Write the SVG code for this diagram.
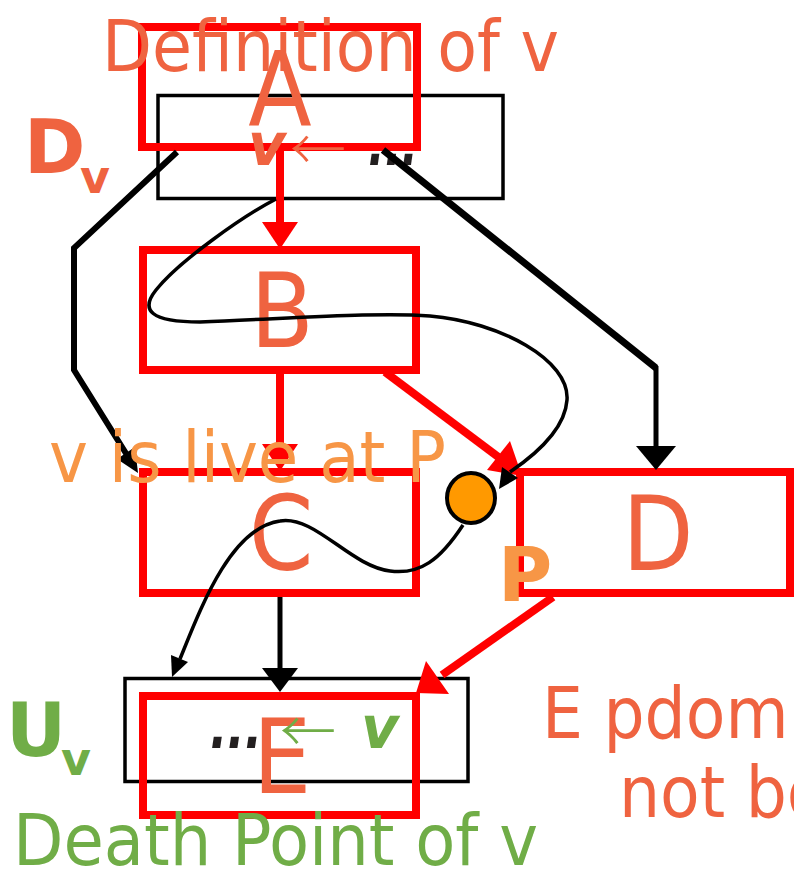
<svg xmlns="http://www.w3.org/2000/svg" width="794" height="869" viewBox="0 0 794 869">
<style>
.rbox{fill:none;stroke:#FF0000;stroke-width:8}
.kbox{fill:none;stroke:#000;stroke-width:3.5}
.big{font-family:"DejaVu Sans Condensed","DejaVu Sans",sans-serif;font-size:103px;fill:#EF6340;text-anchor:middle}
.lbl{font-family:"DejaVu Sans Condensed","DejaVu Sans",sans-serif;font-size:72px}
.bld{font-family:"DejaVu Sans","Liberation Sans",sans-serif;font-weight:bold}
.bi{font-family:"DejaVu Sans","Liberation Sans",sans-serif;font-weight:bold;font-style:italic}
.arr{font-family:"Noto Sans CJK JP","DejaVu Sans",sans-serif;font-weight:300}
.or{fill:#EF6340}
.lo{fill:#F79646}
.gr{fill:#70AD47}
.dk{fill:#231F20}
.redl{stroke:#FF0000;stroke-width:8;fill:none}
.blk{stroke:#000;fill:none;stroke-linejoin:miter}
.rh{fill:#FF0000}
.kh{fill:#000}
</style>
<g id="node-A">
<rect class="kbox" x="158" y="95.5" width="345" height="103"/>
<rect class="rbox" x="142" y="27" width="275" height="120"/>
<text class="big" x="280" y="125">A</text>
<text class="bi or" x="248" y="165" font-size="58">v</text>
<text class="arr or" x="290" y="170" font-size="56">←</text>
<text class="bi dk" x="368" y="165" font-size="58" textLength="50" lengthAdjust="spacingAndGlyphs">...</text>
</g>
<g id="node-B">
<rect class="rbox" x="143" y="250" width="273" height="120"/>
<text class="big" x="282" y="347">B</text>
</g>
<g id="node-C">
<rect class="rbox" x="143" y="472" width="273" height="121"/>
<text class="big" x="281" y="570">C</text>
</g>
<g id="node-D">
<rect class="rbox" x="520" y="472" width="270" height="121"/>
<text class="big" x="658" y="570">D</text>
</g>
<g id="node-E">
<rect class="kbox" x="125" y="678.5" width="343" height="103"/>
<rect class="rbox" x="143" y="696" width="273" height="119"/>
<text class="big" x="282" y="793">E</text>
<text class="bi dk" x="210" y="748" font-size="58" textLength="52" lengthAdjust="spacingAndGlyphs">...</text>
<text class="arr gr" x="280" y="752" font-size="56">←</text>
<text class="bi gr" x="361" y="748" font-size="58">v</text>
</g>
<g id="connectors">
<line class="redl" x1="280" y1="151" x2="280" y2="224"/>
<polygon class="rh" points="262,222 298,222 280,249"/>
<line class="redl" x1="280" y1="374" x2="280" y2="446"/>
<polygon class="rh" points="262,444 298,444 280,471"/>
<line class="redl" x1="385" y1="372" x2="501" y2="459"/>
<polygon class="rh" points="522,476 510,441 487,470"/>
<line class="redl" x1="553" y1="597" x2="442" y2="675"/>
<polygon class="rh" points="416,693 426,661 449,694"/>
<polyline class="blk" stroke-width="6" points="177,152 74,248 74,370 127,455"/>
<polygon class="kh" points="138,473 117,459 135,447"/>
<line class="blk" stroke-width="7" x1="383" y1="150" x2="656" y2="368"/>
<line class="blk" stroke-width="5" x1="656" y1="366" x2="656" y2="448"/>
<polygon class="kh" points="636,446 676,446 656,470"/>
<line class="blk" stroke-width="5" x1="280" y1="597" x2="280" y2="671"/>
<polygon class="kh" points="262,668 298,668 280,692"/>
<path class="blk" stroke-width="3.5" d="M276,199 C245,215 180,260 156,290 C140,310 150,322 200,322 C300,318 380,312 430,316 C500,322 570,360 567,400 C565,430 535,455 510,472"/>
<polygon class="kh" points="499,489 502,467 518,478"/>
<path class="blk" stroke-width="3.5" d="M463,525 C440,560 420,575 390,571 C350,566 315,515 280,521 C230,528 200,610 180,659"/>
<polygon class="kh" points="172,677 171,655 188,662"/>
</g>
<g id="node-P">
<ellipse cx="471" cy="498" rx="24" ry="25" fill="#FF9900" stroke="#000" stroke-width="4"/>
</g>
<g id="labels">
<text class="lbl or" x="102" y="71" font-size="74" textLength="457" lengthAdjust="spacingAndGlyphs">Definition of v</text>
<text class="bld or" x="24" y="173" font-size="74">D</text>
<text class="bld or" x="80" y="193" font-size="46">v</text>
<text class="lbl lo" x="49" y="482" textLength="397" lengthAdjust="spacingAndGlyphs">v is live at P</text>
<text class="bld lo" x="498" y="601" font-size="74">P</text>
<text class="bld gr" x="6" y="756" font-size="74">U</text>
<text class="bld gr" x="61" y="775" font-size="46">v</text>
<text class="lbl gr" x="13" y="865" textLength="525" lengthAdjust="spacingAndGlyphs">Death Point of v</text>
<text class="lbl or" x="542" y="738">E pdom</text>
<text class="lbl or" x="619" y="817">not bo</text>
</g>
</svg>
